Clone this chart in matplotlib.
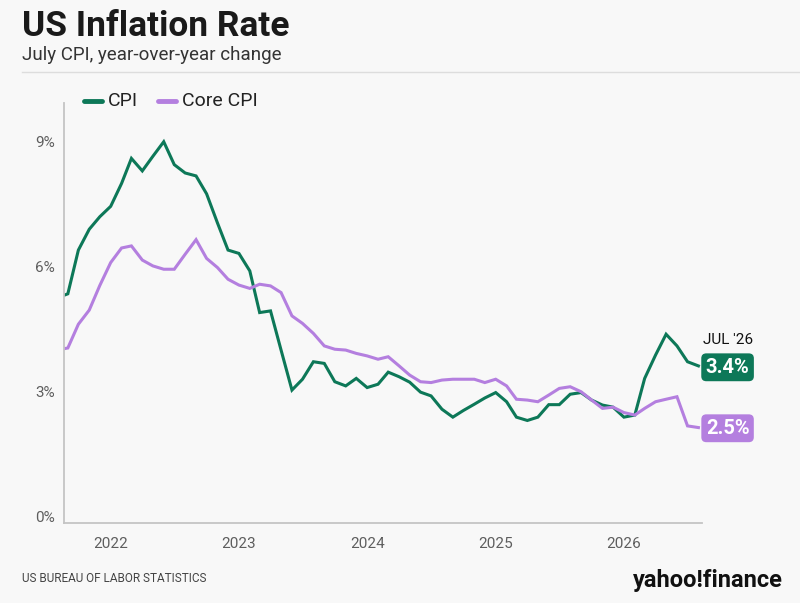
import numpy as np
import pandas as pd
import matplotlib
matplotlib.use("Agg")
import matplotlib.pyplot as plt

plt.rcParams['font.family'] = ['Roboto', 'DejaVu Sans']

# monthly, Aug 2021 .. Aug 2026
months = pd.date_range('2021-08-01', periods=61, freq='MS')

cpi = [5.25, 5.35, 6.4, 6.9, 7.2,
       7.45, 8.0, 8.6, 8.3, 8.65, 9.0, 8.45, 8.25, 8.18, 7.75, 7.05, 6.4,
       6.32, 5.9, 4.9, 4.94, 4.0, 3.04, 3.3, 3.72, 3.68, 3.24, 3.14, 3.32,
       3.1, 3.18, 3.47, 3.36, 3.23, 2.99, 2.9, 2.58, 2.39, 2.55, 2.7, 2.85,
       2.98, 2.76, 2.39, 2.31, 2.39, 2.69, 2.69, 2.94, 2.98, 2.8, 2.68, 2.63,
       2.39, 2.44, 3.32, 3.88, 4.38, 4.1, 3.72, 3.62]

core = [4.0, 4.05, 4.62, 4.96, 5.55,
        6.1, 6.45, 6.5, 6.16, 6.02, 5.94, 5.94, 6.3, 6.65, 6.2, 5.98, 5.7,
        5.56, 5.48, 5.58, 5.54, 5.38, 4.82, 4.64, 4.4, 4.1, 4.02, 4.0, 3.92,
        3.86, 3.78, 3.84, 3.62, 3.4, 3.24, 3.22, 3.28, 3.3, 3.3, 3.3, 3.22,
        3.3, 3.14, 2.82, 2.8, 2.76, 2.92, 3.08, 3.12, 3.0, 2.8, 2.6, 2.63,
        2.5, 2.44, 2.6, 2.76, 2.82, 2.88, 2.18, 2.14]

yticks = [0, 3, 6, 9]
ytick_labels = ['0%', '3%', '6%', '9%']
years = [2022, 2023, 2024, 2025, 2026]
last_label = "JUL '26"
cpi_label = '3.4%'
core_label = '2.5%'

green = '#0d7858'
purple = '#b47fdf'
bg = '#f8f8f8'

fig = plt.figure(figsize=(8, 6.03), dpi=100, facecolor=bg)
ax = fig.add_axes([0.0804, 0.1327, 0.797, 0.6965], facecolor=bg)

ax.plot(months, cpi, color=green, lw=2.2, solid_joinstyle='miter')
ax.plot(months, core, color=purple, lw=2.2, solid_joinstyle='miter')

ax.set_xlim(pd.Timestamp('2021-08-22'), pd.Timestamp('2026-08-11'))
ax.set_ylim(-0.15, 9.93)
ax.set_yticks(yticks)
ax.set_yticklabels(ytick_labels)
ax.set_xticks([pd.Timestamp(f'{y}-01-01') for y in years])
ax.set_xticklabels([str(y) for y in years])
ax.tick_params(length=0, labelsize=11, labelcolor='#5e5e5e')
ax.tick_params(axis='y', pad=7)
ax.tick_params(axis='x', pad=10)
for s in ['top', 'right']:
    ax.spines[s].set_visible(False)
for s in ['left', 'bottom']:
    ax.spines[s].set_color('#c4c4c4')
    ax.spines[s].set_linewidth(1.3)

# end labels
ax.annotate(cpi_label, xy=(months[-1], cpi[-1]), xytext=(21, -1),
            textcoords='offset points', ha='center', va='center',
            color='white', fontsize=14.5, fontweight='bold',
            bbox=dict(boxstyle='round,pad=0.22,rounding_size=0.25',
                      fc=green, ec='none'))
ax.annotate(core_label, xy=(months[-1], core[-1]), xytext=(21, -0.5),
            textcoords='offset points', ha='center', va='center',
            color='white', fontsize=14.5, fontweight='bold',
            bbox=dict(boxstyle='round,pad=0.22,rounding_size=0.25',
                      fc=purple, ec='none'))
ax.annotate(last_label, xy=(months[-1], cpi[-1]), xytext=(21, 19),
            textcoords='offset points', ha='center', va='center',
            color='#111111', fontsize=11)

# title block
fig.text(0.027, 1 - 26 / 603, 'US Inflation Rate', fontsize=25.5,
         fontweight='bold', color='#1a1a1a', va='center', ha='left')
fig.text(0.028, 1 - 55 / 603, 'July CPI, year-over-year change',
         fontsize=13.5, color='#333333', va='center', ha='left')
fig.add_artist(plt.Line2D([0.027, 1.0], [1 - 72 / 603, 1 - 72 / 603],
                          color='#dddddd', lw=1, transform=fig.transFigure))

# legend
ly = 1 - 101 / 603
fig.add_artist(plt.Line2D([84 / 800, 102 / 800], [ly, ly], color=green,
                          lw=3.5, solid_capstyle='round',
                          transform=fig.transFigure))
fig.text(108 / 800, ly, 'CPI', fontsize=14, color='#222222', va='center')
fig.add_artist(plt.Line2D([158 / 800, 176 / 800], [ly, ly], color=purple,
                          lw=3.5, solid_capstyle='round',
                          transform=fig.transFigure))
fig.text(182 / 800, ly, 'Core CPI', fontsize=14, color='#222222',
         va='center')

# footer
fig.text(0.028, 1 - 578 / 603, 'US BUREAU OF LABOR STATISTICS', fontsize=8.5,
         color='#444444', va='center')
fig.text(0.978, 1 - 580 / 603, 'yahoo!finance', fontsize=17,
         fontweight='bold', color='#111111', va='center', ha='right')

fig.savefig('out.png', dpi=100, facecolor=bg)
